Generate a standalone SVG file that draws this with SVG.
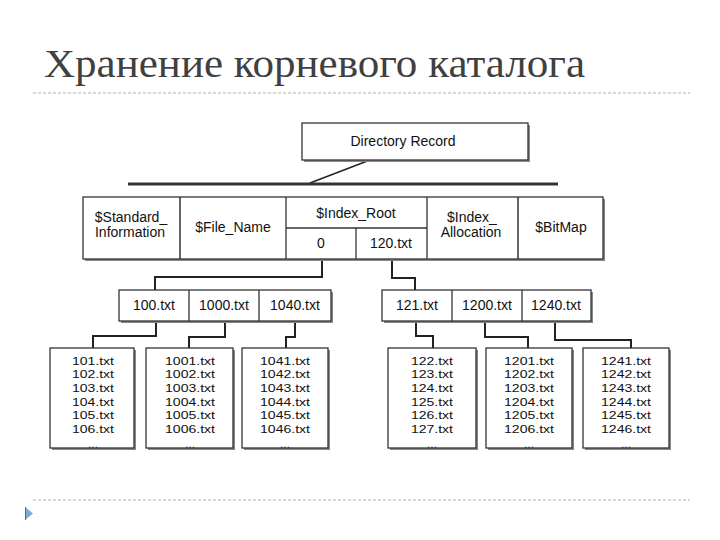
<svg xmlns="http://www.w3.org/2000/svg" width="720" height="540" viewBox="0 0 720 540">
<style>
.t{font-family:"Liberation Sans",Arial,sans-serif;font-size:14px;fill:#111;text-anchor:middle}
.leaf{font-family:"Liberation Sans",Arial,sans-serif;font-size:11.8px;fill:#111;text-anchor:middle}
.dots{font-family:"Liberation Sans",Arial,sans-serif;font-size:12px;fill:#333;text-anchor:middle}
.box{fill:#fff;stroke:#333;stroke-width:1.3}
.sh{fill:#888}
.c{fill:none;stroke:#222;stroke-width:2}
.rule{stroke:#b0b0b0;stroke-width:1;stroke-dasharray:3 2}
</style>
<rect width="720" height="540" fill="#fff"/>
<text x="44" y="77" font-family="'Liberation Serif','Times New Roman',serif" font-size="39" fill="#404040" textLength="541" lengthAdjust="spacingAndGlyphs">Хранение корневого каталога</text>
<line class="rule" x1="33" y1="93" x2="690" y2="93"/>
<line class="rule" x1="33" y1="500" x2="690" y2="500"/>
<polygon points="25,507 33,513.5 25,520" fill="#7aa9d6"/>
<line x1="25.5" y1="507" x2="25.5" y2="520" stroke="#5a6a80" stroke-width="1"/>

<g id="connectors">
<line x1="370" y1="160" x2="310" y2="183" stroke="#222" stroke-width="1.5"/>
<line x1="128" y1="184" x2="558" y2="184" stroke="#333" stroke-width="3"/>
<polyline class="c" points="322,259 322,277 155,277 155,290"/>
<polyline class="c" points="392,259 392,278 415,278 415,290"/>
<polyline class="c" points="156,321 156,336 93,336 93,348"/>
<polyline class="c" points="225,321 225,337 189,337 189,348"/>
<polyline class="c" points="295,321 295,337 286,337 286,348" stroke-width="1.5"/>
<polyline class="c" points="416,321 416,336 433,336 433,348"/>
<polyline class="c" points="485,321 485,337 528,337 528,348"/>
<polyline class="c" points="555,321 555,340 631,340 631,348"/>
</g>

<g id="directory-record">
<rect class="sh" x="304" y="125" width="226" height="37"/>
<rect class="box" x="302" y="123" width="226" height="37"/>
<text class="t" x="403" y="146">Directory Record</text>
</g>

<g id="mft-record">
<rect class="sh" x="85" y="199" width="520" height="62"/>
<rect class="box" x="83" y="197" width="520" height="62"/>
<line x1="180" y1="197" x2="180" y2="259" stroke="#333" stroke-width="1.5"/>
<line x1="286" y1="197" x2="286" y2="259" stroke="#333" stroke-width="1.3"/>
<line x1="427" y1="197" x2="427" y2="259" stroke="#333" stroke-width="1.3"/>
<line x1="518" y1="197" x2="518" y2="259" stroke="#333" stroke-width="1.5"/>
<line x1="286" y1="228" x2="427" y2="228" stroke="#333" stroke-width="1.3"/>
<line x1="356" y1="228" x2="356" y2="259" stroke="#333" stroke-width="1.3"/>
<text class="t" x="131" y="222">$Standard_</text>
<text class="t" x="130" y="237">Information</text>
<text class="t" x="233" y="232">$File_Name</text>
<text class="t" x="356" y="218">$Index_Root</text>
<text class="t" x="321" y="248">0</text>
<text class="t" x="391" y="248">120.txt</text>
<text class="t" x="472" y="222">$Index_</text>
<text class="t" x="471" y="237">Allocation</text>
<text class="t" x="561" y="232">$BitMap</text>
</g>

<g id="index-left">
<rect class="sh" x="121" y="292" width="212" height="31"/>
<rect class="box" x="119" y="290" width="212" height="31"/>
<line x1="189" y1="290" x2="189" y2="321" stroke="#333" stroke-width="1.3"/>
<line x1="259" y1="290" x2="259" y2="321" stroke="#333" stroke-width="1.3"/>
<text class="t" x="154" y="310">100.txt</text>
<text class="t" x="224" y="310">1000.txt</text>
<text class="t" x="295" y="310">1040.txt</text>
</g>

<g id="index-right">
<rect class="sh" x="384" y="292" width="209" height="31"/>
<rect class="box" x="382" y="290" width="209" height="31"/>
<line x1="452" y1="290" x2="452" y2="321" stroke="#333" stroke-width="1.3"/>
<line x1="522" y1="290" x2="522" y2="321" stroke="#333" stroke-width="1.3"/>
<text class="t" x="417" y="310">121.txt</text>
<text class="t" x="487" y="310">1200.txt</text>
<text class="t" x="556" y="310">1240.txt</text>
</g>

<g id="leaf-100">
<rect class="sh" x="52" y="350" width="84" height="100"/>
<rect class="box" x="50" y="348" width="84" height="100"/>
<text class="leaf" x="93" y="364.5" textLength="42" lengthAdjust="spacingAndGlyphs">101.txt</text>
<text class="leaf" x="93" y="378.2" textLength="42" lengthAdjust="spacingAndGlyphs">102.txt</text>
<text class="leaf" x="93" y="391.9" textLength="42" lengthAdjust="spacingAndGlyphs">103.txt</text>
<text class="leaf" x="93" y="405.6" textLength="42" lengthAdjust="spacingAndGlyphs">104.txt</text>
<text class="leaf" x="93" y="419.3" textLength="42" lengthAdjust="spacingAndGlyphs">105.txt</text>
<text class="leaf" x="93" y="433" textLength="42" lengthAdjust="spacingAndGlyphs">106.txt</text>
<text class="dots" x="93" y="447.5">...</text>
</g>

<g id="leaf-1000">
<rect class="sh" x="148" y="350" width="87" height="100"/>
<rect class="box" x="146" y="348" width="87" height="100"/>
<text class="leaf" x="190" y="364.5" textLength="50" lengthAdjust="spacingAndGlyphs">1001.txt</text>
<text class="leaf" x="190" y="378.2" textLength="50" lengthAdjust="spacingAndGlyphs">1002.txt</text>
<text class="leaf" x="190" y="391.9" textLength="50" lengthAdjust="spacingAndGlyphs">1003.txt</text>
<text class="leaf" x="190" y="405.6" textLength="50" lengthAdjust="spacingAndGlyphs">1004.txt</text>
<text class="leaf" x="190" y="419.3" textLength="50" lengthAdjust="spacingAndGlyphs">1005.txt</text>
<text class="leaf" x="190" y="433" textLength="50" lengthAdjust="spacingAndGlyphs">1006.txt</text>
<text class="dots" x="190" y="447.5">...</text>
</g>

<g id="leaf-1040">
<rect class="sh" x="244" y="350" width="86" height="100"/>
<rect class="box" x="242" y="348" width="86" height="100"/>
<text class="leaf" x="285" y="364.5" textLength="50" lengthAdjust="spacingAndGlyphs">1041.txt</text>
<text class="leaf" x="285" y="378.2" textLength="50" lengthAdjust="spacingAndGlyphs">1042.txt</text>
<text class="leaf" x="285" y="391.9" textLength="50" lengthAdjust="spacingAndGlyphs">1043.txt</text>
<text class="leaf" x="285" y="405.6" textLength="50" lengthAdjust="spacingAndGlyphs">1044.txt</text>
<text class="leaf" x="285" y="419.3" textLength="50" lengthAdjust="spacingAndGlyphs">1045.txt</text>
<text class="leaf" x="285" y="433" textLength="50" lengthAdjust="spacingAndGlyphs">1046.txt</text>
<text class="dots" x="285" y="447.5">...</text>
</g>

<g id="leaf-121">
<rect class="sh" x="390" y="350" width="88" height="100"/>
<rect class="box" x="388" y="348" width="88" height="100"/>
<text class="leaf" x="432" y="364.5" textLength="42" lengthAdjust="spacingAndGlyphs">122.txt</text>
<text class="leaf" x="432" y="378.2" textLength="42" lengthAdjust="spacingAndGlyphs">123.txt</text>
<text class="leaf" x="432" y="391.9" textLength="42" lengthAdjust="spacingAndGlyphs">124.txt</text>
<text class="leaf" x="432" y="405.6" textLength="42" lengthAdjust="spacingAndGlyphs">125.txt</text>
<text class="leaf" x="432" y="419.3" textLength="42" lengthAdjust="spacingAndGlyphs">126.txt</text>
<text class="leaf" x="432" y="433" textLength="42" lengthAdjust="spacingAndGlyphs">127.txt</text>
<text class="dots" x="432" y="447.5">...</text>
</g>

<g id="leaf-1200">
<rect class="sh" x="488" y="350" width="86" height="100"/>
<rect class="box" x="486" y="348" width="86" height="100"/>
<text class="leaf" x="529" y="364.5" textLength="50" lengthAdjust="spacingAndGlyphs">1201.txt</text>
<text class="leaf" x="529" y="378.2" textLength="50" lengthAdjust="spacingAndGlyphs">1202.txt</text>
<text class="leaf" x="529" y="391.9" textLength="50" lengthAdjust="spacingAndGlyphs">1203.txt</text>
<text class="leaf" x="529" y="405.6" textLength="50" lengthAdjust="spacingAndGlyphs">1204.txt</text>
<text class="leaf" x="529" y="419.3" textLength="50" lengthAdjust="spacingAndGlyphs">1205.txt</text>
<text class="leaf" x="529" y="433" textLength="50" lengthAdjust="spacingAndGlyphs">1206.txt</text>
<text class="dots" x="529" y="447.5">...</text>
</g>

<g id="leaf-1240">
<rect class="sh" x="585" y="350" width="86" height="100"/>
<rect class="box" x="583" y="348" width="86" height="100"/>
<text class="leaf" x="626" y="364.5" textLength="50" lengthAdjust="spacingAndGlyphs">1241.txt</text>
<text class="leaf" x="626" y="378.2" textLength="50" lengthAdjust="spacingAndGlyphs">1242.txt</text>
<text class="leaf" x="626" y="391.9" textLength="50" lengthAdjust="spacingAndGlyphs">1243.txt</text>
<text class="leaf" x="626" y="405.6" textLength="50" lengthAdjust="spacingAndGlyphs">1244.txt</text>
<text class="leaf" x="626" y="419.3" textLength="50" lengthAdjust="spacingAndGlyphs">1245.txt</text>
<text class="leaf" x="626" y="433" textLength="50" lengthAdjust="spacingAndGlyphs">1246.txt</text>
<text class="dots" x="626" y="447.5">...</text>
</g>
</svg>
